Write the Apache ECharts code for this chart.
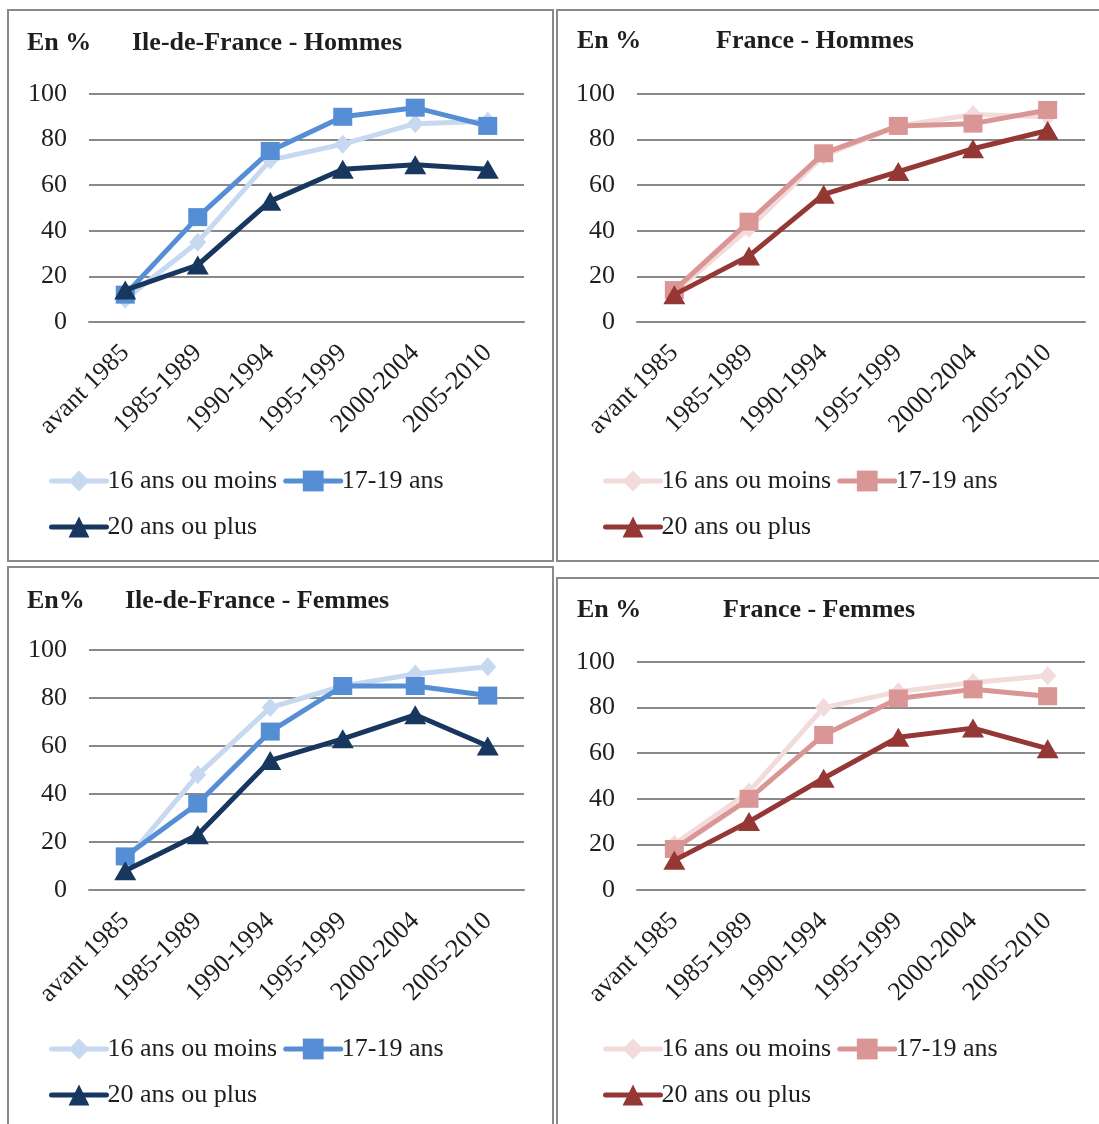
<!DOCTYPE html>
<html>
<head>
<meta charset="utf-8">
<script src="https://cdn.jsdelivr.net/npm/echarts@6/dist/echarts.min.js"></script>
<style>
html,body{margin:0;padding:0;background:#fff;}
#c{width:1099px;height:1124px;}
</style>
</head>
<body>
<div id="c"></div>
<script>
// ---- Data ----
var categories = ['avant 1985', '1985-1989', '1990-1994', '1995-1999', '2000-2004', '2005-2010'];
var seriesLabels = ['16 ans ou moins', '17-19 ans', '20 ans ou plus'];
var yTicks = [0, 20, 40, 60, 80, 100];

var idfHommes16 = [10, 35, 71, 78, 87, 88];
var idfHommes17 = [12, 46, 75, 90, 94, 86];
var idfHommes20 = [14, 25, 53, 67, 69, 67];

var frHommes16 = [13, 41, 73, 86, 91, 90];
var frHommes17 = [14, 44, 74, 86, 87, 93];
var frHommes20 = [12, 29, 56, 66, 76, 84];

var idfFemmes16 = [12, 48, 76, 85, 90, 93];
var idfFemmes17 = [14, 36, 66, 85, 85, 81];
var idfFemmes20 = [8, 23, 54, 63, 73, 60];

var frFemmes16 = [20, 43, 80, 87, 91, 94];
var frFemmes17 = [18, 40, 68, 84, 88, 85];
var frFemmes20 = [13, 30, 49, 67, 71, 62];

var panelTitles = ['Ile-de-France - Hommes', 'France - Hommes', 'Ile-de-France - Femmes', 'France - Femmes'];
var unitLabels = ['En %', 'En %', 'En%', 'En %'];

// ---- Styles ----
var FONT = 'Liberation Serif, Times New Roman, serif';
var GRAYLINE = '#898989';
var TXT = '#1e1e1e';
var blueColors = ['#C6D9F0', '#558ED5', '#17375E'];
var redColors = ['#F2DCDB', '#D99694', '#953735'];
var symbols = ['diamond', 'rect', 'triangle'];
var symSizes = [[17, 19], [19, 18], [22, 19]];

var grids = [
  {left: 89, top: 94, width: 435, height: 228},
  {left: 637, top: 94, width: 448, height: 228},
  {left: 89, top: 650, width: 435, height: 240},
  {left: 637, top: 662, width: 448, height: 228}
];

var panelData = [
  {prefix: 'IDF', colors: blueColors, data: [idfHommes16, idfHommes17, idfHommes20]},
  {prefix: 'FR', colors: redColors, data: [frHommes16, frHommes17, frHommes20]},
  {prefix: 'IDF', colors: blueColors, data: [idfFemmes16, idfFemmes17, idfFemmes20]},
  {prefix: 'FR', colors: redColors, data: [frFemmes16, frFemmes17, frFemmes20]}
];

var nameMap = {};
['IDF', 'FR'].forEach(function (p) {
  seriesLabels.forEach(function (l, i) { nameMap[p + i] = l; });
});

var xAxes = [], yAxes = [], series = [], titles = [], legends = [];

grids.forEach(function (g, gi) {
  xAxes.push({
    type: 'category', gridIndex: gi, data: categories, boundaryGap: true,
    axisLine: {show: true, lineStyle: {color: GRAYLINE, width: 2}},
    axisTick: {show: false},
    axisLabel: {rotate: 45, margin: 27, fontFamily: FONT, fontSize: 26, color: TXT, interval: 0}
  });
  yAxes.push({
    type: 'value', gridIndex: gi, min: yTicks[0], max: yTicks[yTicks.length - 1], interval: 20,
    axisLine: {show: false}, axisTick: {show: false},
    axisLabel: {margin: 22, fontFamily: FONT, fontSize: 26, color: TXT},
    splitLine: {show: true, lineStyle: {color: GRAYLINE, width: 2}}
  });
  var pd = panelData[gi];
  pd.data.forEach(function (arr, si) {
    series.push({
      type: 'line', name: pd.prefix + si, xAxisIndex: gi, yAxisIndex: gi,
      data: arr, symbol: symbols[si], symbolSize: symSizes[si],
      showAllSymbol: true,
      lineStyle: {color: pd.colors[si], width: 5},
      itemStyle: {color: pd.colors[si], borderWidth: 0},
      emphasis: {disabled: true},
      z: 2 + si
    });
  });
});

// Titles
var titlePos = [
  {u: [27, 30], t: [132, 30]},
  {u: [577, 28], t: [716, 28]},
  {u: [27, 588], t: [125, 588]},
  {u: [577, 597], t: [723, 597]}
];
titlePos.forEach(function (p, i) {
  titles.push({text: unitLabels[i], left: p.u[0], top: p.u[1], padding: 0,
    textStyle: {fontFamily: FONT, fontSize: 26, fontWeight: 'bold', color: TXT}});
  titles.push({text: panelTitles[i], left: p.t[0], top: p.t[1], padding: 0,
    textStyle: {fontFamily: FONT, fontSize: 26, fontWeight: 'bold', color: TXT}});
});

// Legends (two rows per panel)
var legendPos = [
  {x: 49, y1: 481, y2: 527, p: 'IDF'},
  {x: 603, y1: 481, y2: 527, p: 'FR'},
  {x: 49, y1: 1049, y2: 1095, p: 'IDF'},
  {x: 603, y1: 1049, y2: 1095, p: 'FR'}
];
legendPos.forEach(function (lp) {
  var common = {
    orient: 'horizontal', padding: 0, itemGap: 6, itemWidth: 55, itemHeight: 26,
    selectedMode: false,
    lineStyle: {width: 5, cap: 'round'},
    formatter: function (n) { return nameMap[n]; },
    textStyle: {fontFamily: FONT, fontSize: 26, color: TXT, padding: [0, 0, 0, -4]}
  };
  legends.push(Object.assign({}, common, {left: lp.x, top: lp.y1 - 13, data: [lp.p + '0', lp.p + '1']}));
  legends.push(Object.assign({}, common, {left: lp.x, top: lp.y2 - 13, data: [lp.p + '2']}));
});

var borderStyle = {stroke: '#8a8a8a', fill: 'none', lineWidth: 2};
var graphics = [
  {type: 'rect', shape: {x: 8, y: 10, width: 545, height: 551}, style: borderStyle, silent: true},
  {type: 'rect', shape: {x: 557, y: 10, width: 560, height: 551}, style: borderStyle, silent: true},
  {type: 'rect', shape: {x: 8, y: 567, width: 545, height: 600}, style: borderStyle, silent: true},
  {type: 'rect', shape: {x: 557, y: 578, width: 560, height: 600}, style: borderStyle, silent: true}
];

var chart = echarts.init(document.getElementById('c'), null, {renderer: 'canvas'});
chart.setOption({
  backgroundColor: '#ffffff',
  animation: false,
  title: titles,
  legend: legends,
  grid: grids,
  xAxis: xAxes,
  yAxis: yAxes,
  series: series,
  graphic: graphics
});
</script>
</body>
</html>
